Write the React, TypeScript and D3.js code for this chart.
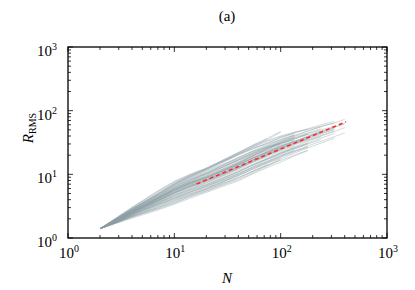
import React from 'react';
import * as d3 from 'd3';

// shared N grid for the gray trajectories
const nGrid = [2, 3, 4, 5, 7, 10, 14, 20, 28, 40, 55, 75, 100, 135, 180, 240, 320, 400];

// R_RMS per trajectory (each line may stop early)
const runs: number[][] = [
    [1.4, 2.1, 2.8, 3.5, 4.8, 6.9, 9.0, 11.5, 14.8, 20.5, 27, 35, 46],
    [1.4, 2.05, 2.7, 3.3, 4.5, 6.3, 8.2, 10.4, 13.6, 18, 23, 28, 34, 41, 48, 56, 64, 73],
    [1.4, 1.95, 2.5, 2.95, 3.9, 5.2, 6.5, 8.0, 10.0, 13.2, 17, 21, 25, 31, 37, 44, 52],
    [1.4, 1.9, 2.4, 2.8, 3.6, 4.7, 5.8, 7.0, 8.8, 11.5, 14.5, 18, 22, 27, 33, 39],
    [1.4, 2.0, 2.65, 3.2, 4.3, 6.0, 7.6, 9.4, 12, 15.5, 20, 24, 29, 36, 43],
    [1.4, 1.85, 2.3, 2.7, 3.4, 4.3, 5.3, 6.5, 8.0, 10.3, 13, 16, 19.5, 24],
    [1.4, 2.1, 2.75, 3.35, 4.6, 6.5, 8.4, 10.5, 13.5, 17.5, 22, 27, 31, 37, 44, 50, 57],
    [1.4, 1.95, 2.55, 3.05, 4.1, 5.6, 7.1, 8.9, 11.2, 14.8, 19.5, 25, 31, 38],
    [1.4, 1.9, 2.45, 2.9, 3.8, 5.0, 6.2, 7.6, 9.6, 12.5, 16.5, 20, 24, 29, 34, 40, 47, 54],
    [1.4, 2.0, 2.6, 3.15, 4.2, 5.8, 7.3, 9.0, 11.5, 15, 19, 23.5, 28, 33, 39, 45],
    [1.4, 2.05, 2.75, 3.4, 4.7, 6.6, 8.6, 10.8, 13.8, 18.2, 23.5, 29, 35, 42],
    [1.4, 1.85, 2.35, 2.75, 3.55, 4.6, 5.6, 6.8, 8.5, 11, 14, 17.5, 21.5, 26, 31],
    [1.4, 2.0, 2.55, 3.05, 4.0, 5.4, 6.9, 8.6, 11, 14.5, 18.5, 22.5, 27, 32, 38, 45, 53],
    [1.4, 1.95, 2.6, 3.2, 4.3, 5.9, 7.7, 9.8, 12.6, 16.5, 21, 26, 30],
    [1.4, 2.05, 2.7, 3.25, 4.4, 6.1, 7.6, 9.2, 11.5, 14.5, 18, 22, 26.5, 32, 39, 46],
    [1.4, 1.9, 2.4, 2.85, 3.75, 5.0, 6.3, 7.8, 9.9, 13, 17, 21.5, 26, 31, 36],
    [1.4, 2.1, 2.8, 3.45, 4.7, 6.7, 8.8, 11.2, 14.2, 18.5, 23, 27, 31, 35],
    [1.4, 1.9, 2.45, 2.95, 3.9, 5.2, 6.6, 8.3, 10.6, 14, 18, 22.5, 27.5, 33, 39, 47, 55, 63],
    [1.4, 1.95, 2.5, 3.0, 3.95, 5.3, 6.7, 8.2, 10.2, 13, 16.5, 20.5, 25],
    [1.4, 2.0, 2.65, 3.25, 4.35, 6.0, 7.9, 10, 12.8, 17, 22, 27.5, 33, 39, 45, 52],
    [1.4, 1.85, 2.3, 2.7, 3.45, 4.4, 5.4, 6.6, 8.3, 10.8, 14, 17.5, 21, 25.5, 30, 35],
    [1.4, 2.0, 2.6, 3.1, 4.1, 5.5, 7.0, 8.7, 11.2, 14.8, 19.5, 25, 31, 37, 43],
    [1.4, 2.05, 2.65, 3.2, 4.25, 5.8, 7.3, 8.9, 11, 14.2, 18, 22, 26, 30, 35, 41, 48],
    [1.4, 1.95, 2.5, 2.95, 3.85, 5.1, 6.4, 7.9, 9.8, 12.5, 15.5, 19, 23, 28],
    [1.4, 2.1, 2.8, 3.4, 4.6, 6.4, 8.2, 10.3, 13, 16.8, 21, 25.5, 30, 36, 42, 48],
    [1.4, 1.9, 2.4, 2.9, 3.8, 5.1, 6.5, 8.2, 10.5, 13.8, 18, 23, 28, 34],
    [1.4, 2.0, 2.6, 3.1, 4.15, 5.7, 7.4, 9.4, 12, 15.8, 20.5, 26, 32.5, 40, 48, 56],
    [1.4, 1.95, 2.55, 3.1, 4.1, 5.5, 6.9, 8.4, 10.4, 13.3, 17, 21, 25.5, 31, 37],
    [1.4, 1.9, 2.45, 2.9, 3.7, 4.8, 6.0, 7.4, 9.4, 12.3, 16, 20, 24],
    [1.4, 2.0, 2.6, 3.15, 4.2, 5.7, 7.2, 8.8, 11, 14, 17.8, 22, 27, 33, 40, 47, 55, 62],
    [1.4, 1.85, 2.35, 2.8, 3.6, 4.7, 5.9, 7.3, 9.2, 12, 15.5, 19.5],
    [1.4, 2.05, 2.7, 3.3, 4.45, 6.2, 8.0, 10.1, 12.9, 16.8, 21.5, 26.5, 32, 38.5],
    [1.4, 1.95, 2.55, 3.1, 4.15, 5.7, 7.3, 9.1, 11.6, 15.2, 19.8, 25, 30.5],
    [1.4, 2.0, 2.55, 3.0, 3.9, 5.2, 6.5, 8.0, 10.0, 12.8, 16.2, 20, 24.5, 30, 36, 43, 50],
    [1.4, 1.8, 2.2, 2.55, 3.2, 4.0, 4.9, 6.0, 7.5, 9.8, 12.5, 15.5, 19, 23, 27],
    [1.4, 2.15, 2.9, 3.6, 5.0, 7.2, 9.4, 12, 15.8, 21.5, 28.5, 37, 47],
    [1.4, 2.1, 2.85, 3.55, 4.9, 7.0, 9.2, 11.8, 15.5, 21, 27, 33, 39, 45, 52, 60, 68],
    [1.4, 2.1, 2.8, 3.5, 4.85, 6.9, 9.1, 11.9, 15.8, 21, 26, 31, 37, 44],
    [1.4, 2.15, 2.9, 3.55, 4.95, 7.1, 9.5, 12.4, 16.5, 22, 28, 34, 40, 46, 51],
    [1.4, 1.8, 2.2, 2.5, 3.1, 3.9, 4.8, 5.8, 7.1, 9.0, 11.2, 13.8, 16.5, 20, 24],
    [1.4, 1.82, 2.25, 2.6, 3.25, 4.1, 5.0, 6.1, 7.6, 9.6, 12, 15, 18],
    [1.4, 1.85, 2.3, 2.65, 3.3, 4.2, 5.2, 6.3, 7.8, 10, 12.8, 16, 19.5, 23.5, 28, 33, 39, 45],
    [1.4, 1.78, 2.15, 2.45, 3.0, 3.8, 4.7, 5.9, 7.4, 9.5, 12.2, 15.2, 18.5, 22.5, 27],
    [1.4, 1.75, 2.05, 2.3, 2.75, 3.4, 4.2, 5.2, 6.4, 7.9, 10.2, 12.8, 15.5, 19.5, 23.5],
    [1.4, 1.8, 2.15, 2.4, 2.9, 3.6, 4.5, 5.5, 6.7, 8.2, 10.5, 13.5, 17],
    [1.4, 1.78, 2.1, 2.4, 2.85, 3.5, 4.4, 5.4, 6.8, 8.6, 11, 14, 17.5, 21.5, 26, 31, 37],
    [1.4, 1.82, 2.2, 2.5, 3.0, 3.7, 4.6, 5.7, 7.1, 8.8, 11.3, 14.3],
    [1.4, 1.85, 2.3, 2.7, 3.35, 4.2, 5.2, 6.5, 8.1, 10.3, 13.2, 16.8, 20.5, 25, 30],
    [1.4, 1.88, 2.35, 2.75, 3.5, 4.5, 5.6, 6.9, 8.6, 11, 14, 17.5, 21.5, 26, 31, 37, 44],
    [1.4, 2.2, 3.05, 3.85, 5.5, 7.8, 10, 12.6, 16, 20.5, 25.5, 30, 35, 41],
    [1.4, 2.2, 3.0, 3.8, 5.4, 7.6, 9.8, 12.4, 16.4, 22, 29, 36],
    [1.4, 2.15, 2.95, 3.7, 5.2, 7.4, 9.6, 12.2, 15.5, 20, 25, 31, 38, 45, 51, 57, 64],
];

// red dashed fit, end points
const fitN = [16.2, 412];
const fitR = [7.05, 67];

const decades = [1, 10, 100, 1000];
const decadeExp = ['0', '1', '2', '3'];

const W = 415;
const H = 290;
const margin = { top: 47, right: 28, bottom: 52, left: 68 };

export default function App() {
    const innerW = W - margin.left - margin.right;
    const innerH = H - margin.top - margin.bottom;

    const x = d3.scaleLog().domain([1, 1000]).range([0, innerW]);
    const y = d3.scaleLog().domain([1, 1000]).range([innerH, 0]);

    const line = d3.line<[number, number]>()
        .x(d => x(d[0]))
        .y(d => y(d[1]));

    // minor ticks 2..9 in each decade
    const minors: number[] = [];
    for (let k = 0; k < 3; k++) {
        for (let m = 2; m <= 9; m++) minors.push(m * Math.pow(10, k));
    }

    const font = '"Liberation Serif", "Times New Roman", serif';
    const major = 5;
    const minor = 3;

    return (
        <svg width={W} height={H} style={{ position: 'absolute', left: 0, top: 0, background: '#fff' }}
            fontFamily={font}>
            <text x={227} y={21} textAnchor="middle" fontSize={15}>(a)</text>

            <g transform={`translate(${margin.left},${margin.top})`}>
                <g fill="none" stroke="#8a9ea2" strokeOpacity={0.5} strokeWidth={0.75}>
                    {runs.map((r, i) => (
                        <path key={i} d={line(r.map((v, j) => [nGrid[j], v] as [number, number])) || ''} />
                    ))}
                </g>

                <path d={line(fitN.map((n, i) => [n, fitR[i]] as [number, number])) || ''}
                    fill="none" stroke="#ff2a2a" strokeWidth={1.6} strokeDasharray="4,3" />

                {/* ticks on all four sides, pointing inward */}
                <g stroke="#000" strokeWidth={0.8}>
                    {minors.map(v => (
                        <g key={'m' + v}>
                            <line x1={x(v)} x2={x(v)} y1={innerH} y2={innerH - minor} />
                            <line x1={x(v)} x2={x(v)} y1={0} y2={minor} />
                            <line x1={0} x2={minor} y1={y(v)} y2={y(v)} />
                            <line x1={innerW} x2={innerW - minor} y1={y(v)} y2={y(v)} />
                        </g>
                    ))}
                    {decades.map(v => (
                        <g key={'M' + v}>
                            <line x1={x(v)} x2={x(v)} y1={innerH} y2={innerH - major} />
                            <line x1={x(v)} x2={x(v)} y1={0} y2={major} />
                            <line x1={0} x2={major} y1={y(v)} y2={y(v)} />
                            <line x1={innerW} x2={innerW - major} y1={y(v)} y2={y(v)} />
                        </g>
                    ))}
                </g>
                <rect x={0} y={0} width={innerW} height={innerH} fill="none" stroke="#000" strokeWidth={1.3} />

                {decades.map((v, i) => (
                    <text key={'xl' + v} x={x(v) + 1} y={innerH + 20} textAnchor="middle" fontSize={15}>
                        10<tspan dy={-6} fontSize={10}>{decadeExp[i]}</tspan>
                    </text>
                ))}
                {decades.map((v, i) => (
                    <text key={'yl' + v} x={-11} y={y(v) + 9} textAnchor="end" fontSize={15}>
                        10<tspan dy={-6} fontSize={10}>{decadeExp[i]}</tspan>
                    </text>
                ))}
            </g>

            <text x={227} y={283} textAnchor="middle" fontSize={15} fontStyle="italic">N</text>
            <text transform="translate(33,128) rotate(-90)" textAnchor="middle" fontSize={15}>
                <tspan fontStyle="italic">R</tspan>
                <tspan dy={3} fontSize={10}>RMS</tspan>
            </text>
        </svg>
    );
}
